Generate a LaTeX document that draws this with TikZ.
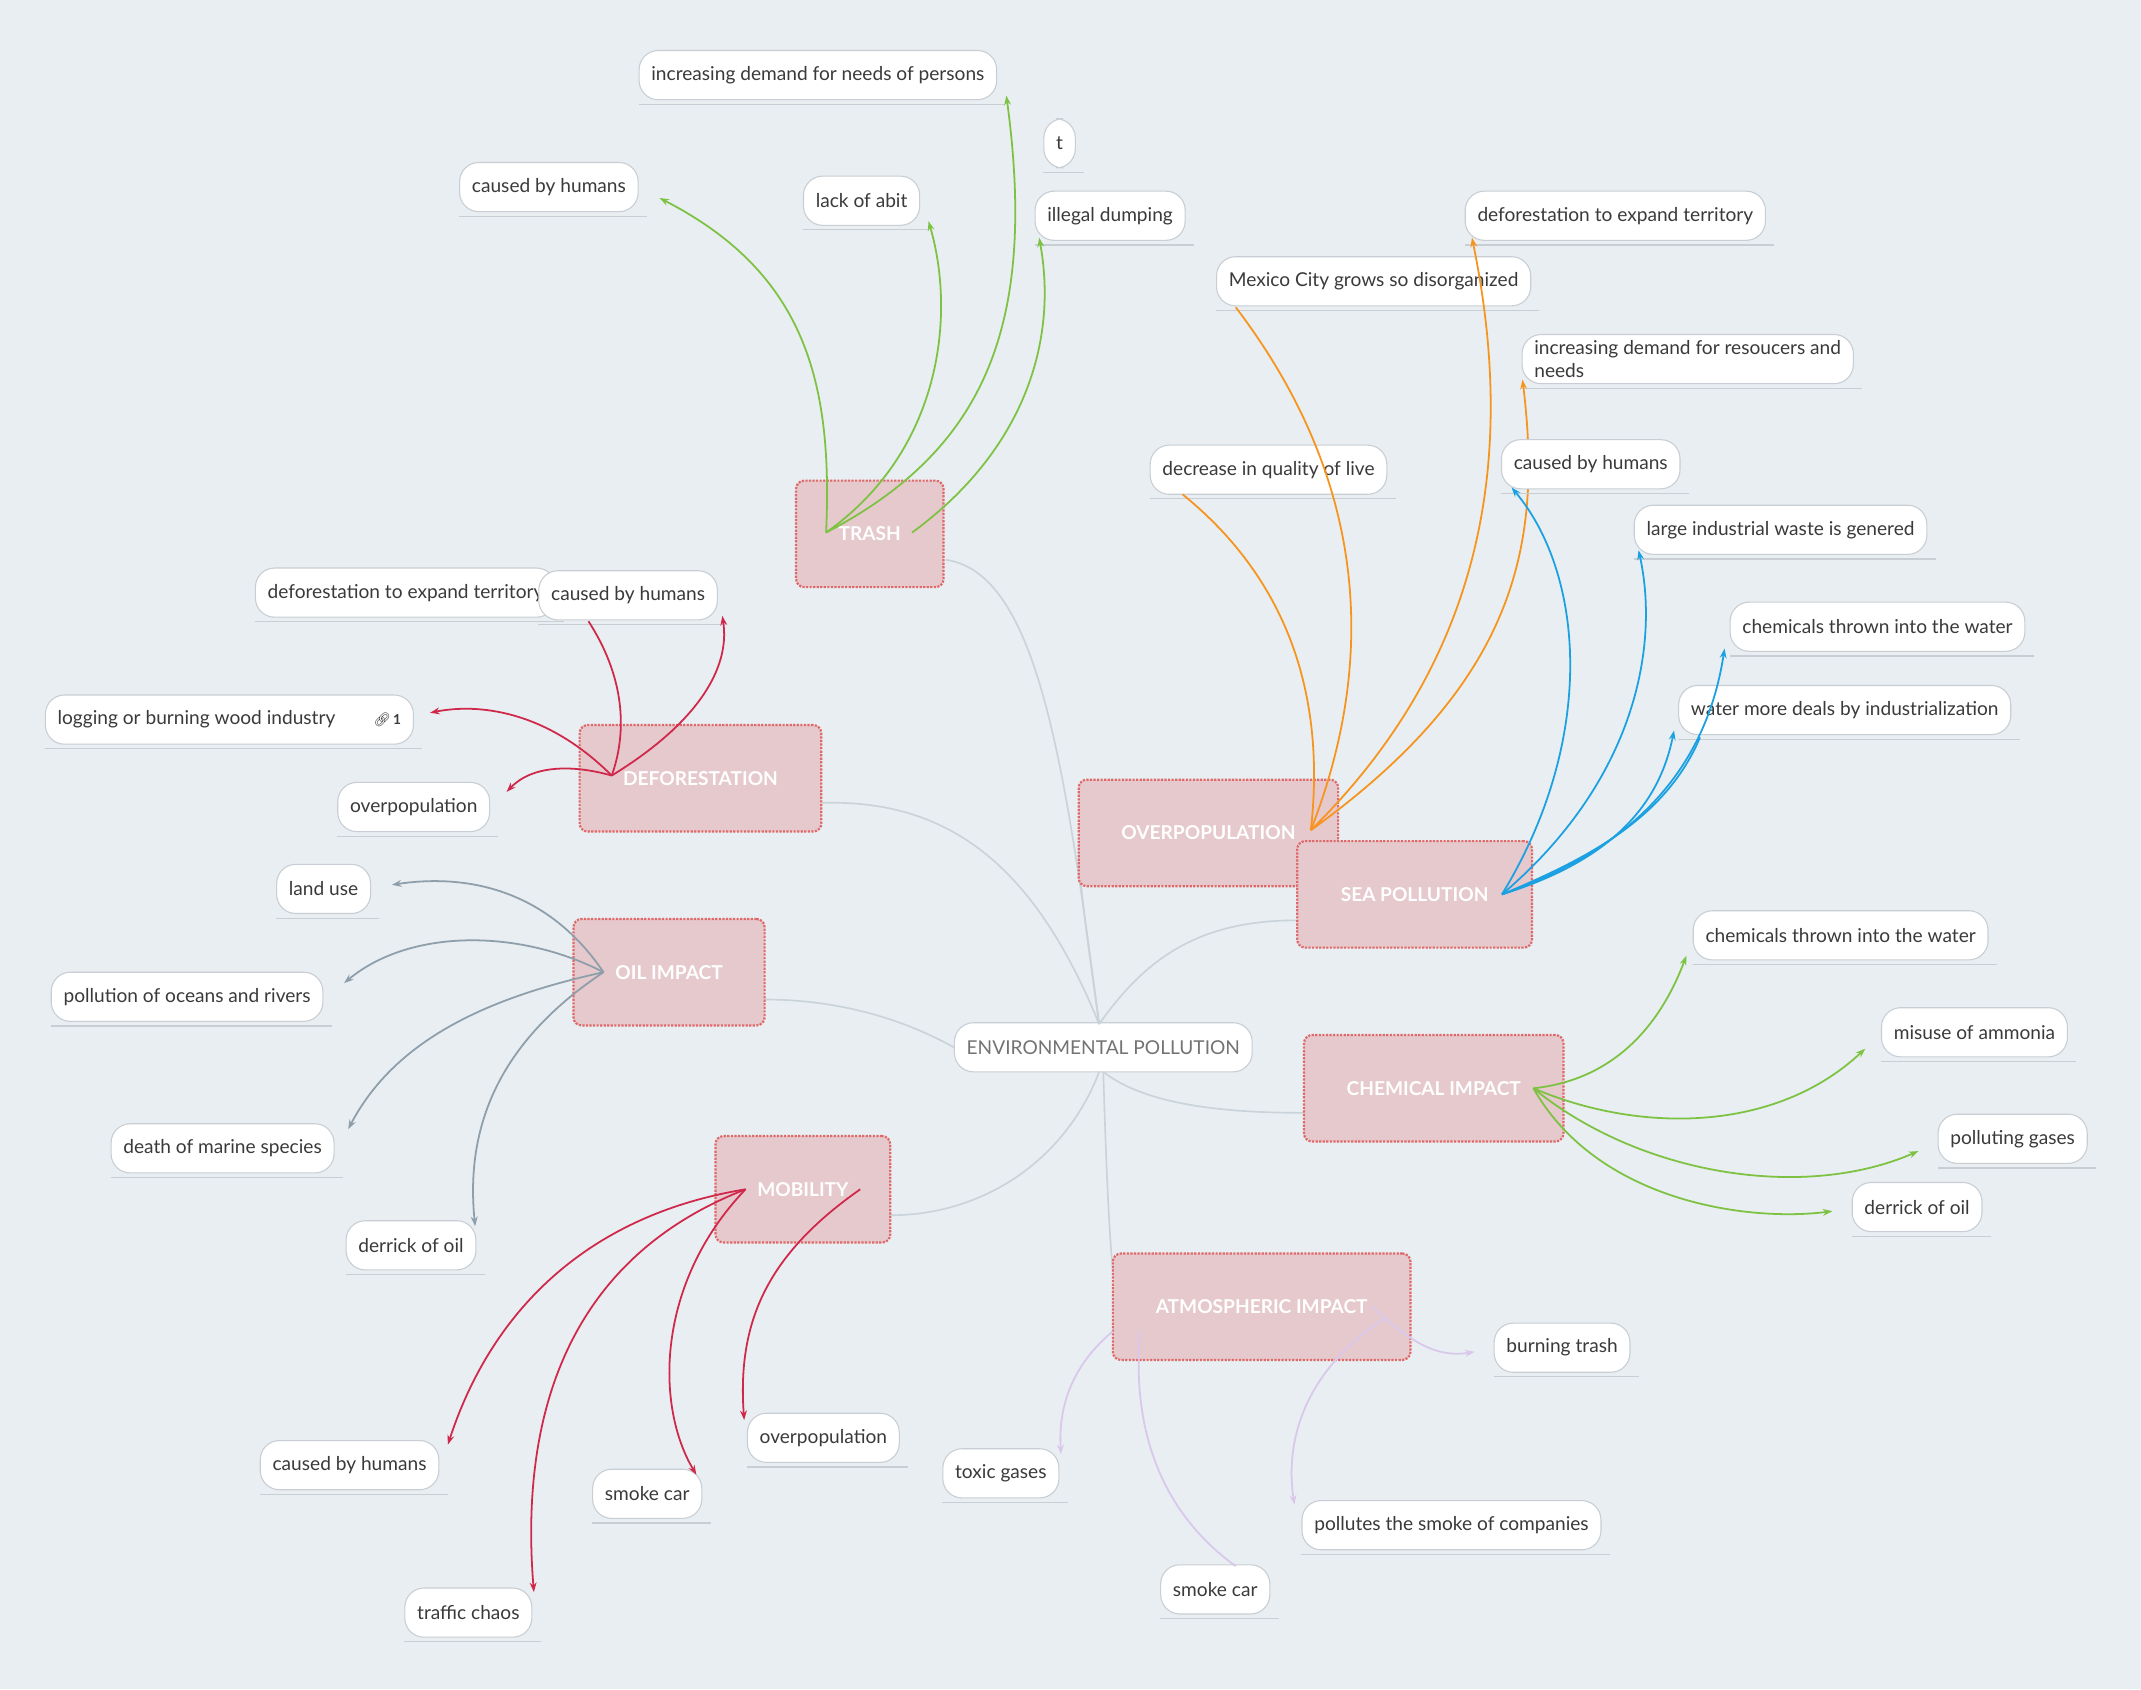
\documentclass[tikz,border=0pt]{standalone}
\usepackage{fontspec}
\setmainfont{Lato}
\newfontfamily\emo{Noto Emoji}
\usetikzlibrary{arrows.meta}
\definecolor{bg}{HTML}{E8EEF1}
\definecolor{lbord}{HTML}{C8CED3}
\definecolor{ltxt}{HTML}{3A3A3A}
\definecolor{mfill}{HTML}{E6C9CD}
\definecolor{mbord}{HTML}{E06868}
\definecolor{cgreen}{HTML}{7DC242}
\definecolor{cred}{HTML}{D0284A}
\definecolor{corange}{HTML}{F7941D}
\definecolor{cblue}{HTML}{1BA1E2}
\definecolor{cgray}{HTML}{8E9EAA}
\definecolor{clav}{HTML}{D9C8EC}
\definecolor{cline}{HTML}{C9D3D9}
\tikzset{
 leaf/.style={draw=lbord,fill=white,rounded corners=14pt,line width=0.8pt,inner xsep=9pt,minimum height=36pt,text=ltxt,font=\fontsize{14}{16.5}\selectfont,align=left},
 topic/.style={draw=mbord,fill=mfill,rounded corners=6pt,line width=1.6pt,densely dotted,text=white,font=\bfseries\fontsize{14}{16}\selectfont},
 conn/.style={line width=1.3pt,-{Stealth[length=7pt,width=5pt]}},
 plain/.style={line width=1.3pt},
 hubl/.style={cline,line width=1.2pt}
}
\newcommand{\leaf}[4][]{\node[leaf,#1] (#2) at (#3) {#4};
 \draw[lbord,line width=0.8pt] ([yshift=-3pt]#2.south west) -- ([xshift=6pt,yshift=-3pt]#2.south east);}
\newcommand{\topic}[4]{\node[topic,minimum width=#3pt,minimum height=78pt] (#1) at (#2) {#4};}
\begin{document}
\begin{tikzpicture}[x=1pt,y=-1pt]
\fill[bg] (0,0) rectangle (1568,1237);
\useasboundingbox (0,0) rectangle (1568,1237);
% center
\node[leaf,text=gray!90!black] (env) at (808,767) {ENVIRONMENTAL POLLUTION};
\coordinate (ch) at (805,750);
% hub lines
\draw[hubl] (ch) .. controls (780,560) and (760,420) .. (693,410);
\draw[hubl] (ch) .. controls (760,640) and (700,585) .. (602,588);
\draw[hubl] (ch) .. controls (795,680) and (790,640) .. (790,620);
\draw[hubl] (ch) .. controls (840,700) and (880,674) .. (950,674);
\draw[hubl] (env.west) .. controls (650,740) and (600,732) .. (560,732);
\draw[hubl] (808,785) .. controls (840,810) and (900,815) .. (955,815);
\draw[hubl] (805,785) .. controls (780,850) and (720,890) .. (652,890);
\draw[hubl] (808,785) .. controls (810,850) and (812,900) .. (815,930);
% topics
\topic{trash}{637,391}{108}{TRASH}
\topic{defo}{513,570}{177}{DEFORESTATION}
\topic{overp}{885,610}{190}{OVERPOPULATION}
\topic{sea}{1036,655}{172}{SEA POLLUTION}
\topic{oil}{490,712}{140}{OIL IMPACT}
\topic{chem}{1050,797}{190}{CHEMICAL IMPACT}
\topic{mob}{588,871}{128}{MOBILITY}
\topic{atm}{924,957}{218}{ATMOSPHERIC IMPACT}
% TRASH leaves
\leaf{t1}{599,55}{increasing demand for needs of persons}
\leaf{t2}{776,105}{t}
\leaf{t3}{402,137}{caused by humans}
\leaf{t4}{631,147}{lack of abit}
\leaf{t5}{813,158}{illegal dumping}
\coordinate (th) at (605,390);
\draw[cgreen,conn] (th) .. controls (610,280) and (590,200) .. (483,145);
\draw[cgreen,conn] (th) .. controls (690,330) and (700,230) .. (680,162);
\draw[cgreen,conn] (th) .. controls (720,330) and (760,240) .. (737,70);
\draw[cgreen,conn] (668,390) .. controls (750,330) and (775,250) .. (761,174);
% DEFORESTATION
\leaf{d1}{297,434}{deforestation to expand territory}
\leaf{d2}{460,436}{caused by humans}
\leaf{d3}{168,527}{logging or burning wood industry\qquad{\emo\fontsize{10}{10}\selectfont\char"1F517}{\fontsize{10}{10}\selectfont\bfseries\,1}}
\leaf{d4}{303,591}{overpopulation}
\coordinate (dh) at (448,568);
\draw[cred,conn] (dh) .. controls (510,530) and (535,490) .. (529,451);
\draw[cred,conn] (dh) .. controls (400,520) and (350,515) .. (315,522);
\draw[cred,conn] (dh) .. controls (420,560) and (390,560) .. (371,580);
\draw[cred,plain] (431,455) .. controls (460,500) and (458,540) .. (dh);
% OVERPOPULATION
\leaf{o1}{1006,206}{Mexico City grows so disorganized}
\leaf{o2}{1183,158}{deforestation to expand territory}
\leaf{o3}{1236,263}{increasing demand for resoucers and\\needs}
\leaf{o4}{929,344}{decrease in quality of live}
\coordinate (oh) at (960,608);
\draw[corange,plain] (905,225) .. controls (1000,350) and (1010,480) .. (oh);
\draw[corange,plain] (866,362) .. controls (950,430) and (970,520) .. (oh);
\draw[corange,conn] (oh) .. controls (1090,480) and (1110,330) .. (1078,174);
\draw[corange,conn] (oh) .. controls (1110,500) and (1130,400) .. (1115,278);
% SEA
\leaf{s1}{1165,340}{caused by humans}
\leaf{s2}{1304,388}{large industrial waste is genered}
\leaf{s3}{1375,459}{chemicals thrown into the water}
\leaf{s4}{1351,520}{water more deals by industrialization}
\coordinate (sh) at (1100,655);
\draw[cblue,conn] (sh) .. controls (1170,540) and (1160,420) .. (1107,357);
\draw[cblue,conn] (sh) .. controls (1200,570) and (1215,470) .. (1200,403);
\draw[cblue,conn] (sh) .. controls (1200,620) and (1250,560) .. (1263,475);
\draw[cblue,conn] (sh) .. controls (1180,630) and (1215,590) .. (1226,535);
\draw[cblue,plain] (1245,540) .. controls (1220,600) and (1160,630) .. (sh);
% OIL
\leaf{g1}{237,651}{land use}
\leaf{g2}{137,730}{pollution of oceans and rivers}
\leaf{g3}{163,841}{death of marine species}
\leaf{g4}{301,912}{derrick of oil}
\coordinate (gh) at (442,712);
\draw[cgray,conn] (gh) .. controls (400,650) and (340,640) .. (287,648);
\draw[cgray,conn] (gh) .. controls (380,680) and (300,680) .. (252,720);
\draw[cgray,conn] (gh) .. controls (360,730) and (290,760) .. (255,827);
\draw[cgray,conn] (gh) .. controls (370,760) and (340,820) .. (348,898);
% CHEMICAL
\leaf{c1}{1348,685}{chemicals thrown into the water}
\leaf{c2}{1446,756}{misuse of ammonia}
\leaf{c3}{1474,834}{polluting gases}
\leaf{c4}{1404,884}{derrick of oil}
\coordinate (cc) at (1123,797);
\draw[cgreen,conn] (cc) .. controls (1190,790) and (1220,740) .. (1235,700);
\draw[cgreen,conn] (cc) .. controls (1200,830) and (1300,830) .. (1366,768);
\draw[cgreen,conn] (cc) .. controls (1200,860) and (1320,880) .. (1405,843);
\draw[cgreen,conn] (cc) .. controls (1170,880) and (1280,895) .. (1342,887);
% MOBILITY
\leaf{m1}{256,1073}{caused by humans}
\leaf{m2}{474,1094}{smoke car}
\leaf{m3}{603,1053}{overpopulation}
\leaf{m4}{343,1181}{traffic chaos}
\coordinate (mh) at (546,871);
\draw[cred,conn] (mh) .. controls (430,890) and (360,960) .. (328,1058);
\draw[cred,conn] (mh) .. controls (420,920) and (380,1030) .. (391,1166);
\draw[cred,conn] (mh) .. controls (480,940) and (480,1030) .. (510,1080);
\draw[cred,conn] (630,871) .. controls (560,920) and (540,970) .. (545,1040);
% ATMOSPHERIC
\leaf{a1}{1144,987}{burning trash}
\leaf{a2}{733,1079}{toxic gases}
\leaf{a3}{1063,1117}{pollutes the smoke of companies}
\leaf{a4}{890,1164}{smoke car}
\draw[clav,conn] (1005,957) .. controls (1030,980) and (1050,995) .. (1080,990);
\draw[clav,conn] (815,975) .. controls (785,1000) and (775,1030) .. (777,1065);
\draw[clav,conn] (1015,965) .. controls (960,1000) and (940,1050) .. (948,1102);
\draw[clav,plain] (905,1147) .. controls (840,1100) and (830,1030) .. (835,975);
\end{tikzpicture}
\end{document}
